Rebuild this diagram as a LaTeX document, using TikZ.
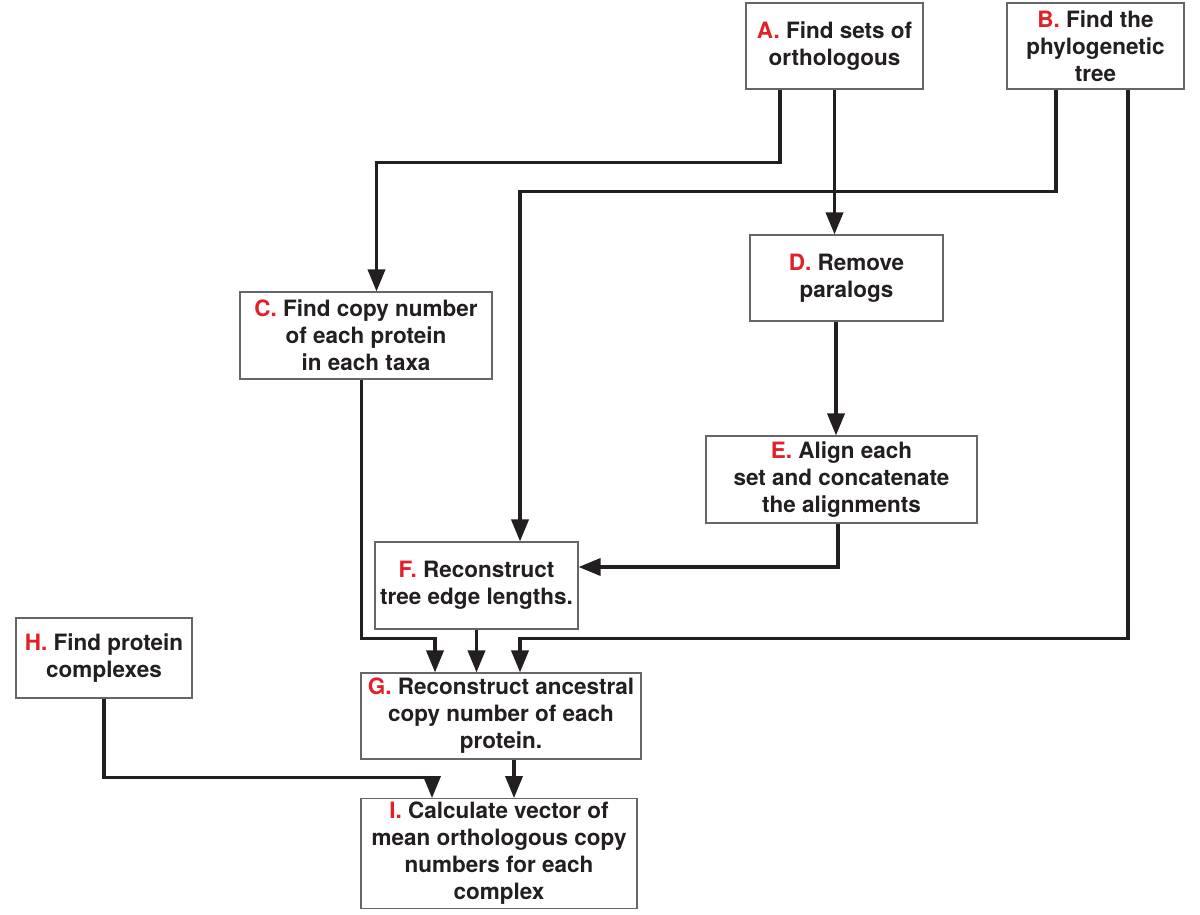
\documentclass[tikz,border=0pt]{standalone}
\usepackage{fontspec}
\setmainfont{TeX Gyre Heros}
\usetikzlibrary{arrows.meta}
\definecolor{labred}{RGB}{226,32,40}
\definecolor{inkgray}{RGB}{35,31,32}
\newcommand{\lbl}[1]{\textcolor{labred}{#1}}

\begin{document}
\begin{tikzpicture}[
	stage/.style={draw=gray!80!black, line width=0.6pt, fill=white, align=center,
		text=inkgray, font=\fontsize{12.8pt}{15.4pt}\selectfont\bfseries, inner sep=2pt},
	flow/.style={-{Triangle[length=0.44cm,width=0.34cm]}, line width=2pt, inkgray}
	]

				\useasboundingbox (0,0) rectangle (24,-18.28);

				\node [stage, minimum width=3.54cm, minimum height=1.72cm] (A) at (16.69, -0.92) {\lbl{A.} Find sets of\\orthologous};
				\node [stage, minimum width=3.54cm, minimum height=1.72cm] (B) at (21.91, -0.92) {\lbl{B.} Find the\\phylogenetic\\tree};
				\node [stage, minimum width=3.86cm, minimum height=1.72cm] (D) at (16.93, -5.56) {\lbl{D.} Remove\\paralogs};
				\node [stage, minimum width=5.04cm, minimum height=1.74cm] (C) at (7.32, -6.71) {\lbl{C.} Find copy number\\of each protein\\in each taxa};
				\node [stage, minimum width=5.42cm, minimum height=1.74cm] (E) at (16.83, -9.59) {\lbl{E.} Align each\\set and concatenate\\the alignments};
				\node [stage, minimum width=4.06cm, minimum height=1.74cm] (F) at (9.53, -11.71) {\lbl{F.} Reconstruct\\tree edge lengths.};
				\node [stage, minimum width=3.52cm, minimum height=1.60cm] (H) at (2.08, -13.16) {\lbl{H.} Find protein\\complexes};
				\node [stage, minimum width=5.60cm, minimum height=1.72cm] (G) at (10.02, -14.32) {\lbl{G.} Reconstruct ancestral\\copy number of each\\protein.};
				\node [stage, minimum width=5.52cm, minimum height=2.18cm] (I) at (9.98, -17.07) {\lbl{I.} Calculate vector of\\mean orthologous copy\\numbers for each\\complex};

				\draw [flow] ([xshift=-1.09cm]A.south) -- ++(0,-1.46) -| ([xshift=0.21cm]C.north);
				\draw [flow] (A.south) -- (A.south |- D.north);
				\draw [flow] ([xshift=-0.79cm]B.south) -- ++(0,-2.04) -| ([xshift=0.87cm]F.north);
				\draw [flow] ([xshift=0.65cm]B.south) -- ++(0,-10.98) -| ([xshift=0.38cm]G.north);
				\draw [flow] ([xshift=-0.21cm]D.south) -- ([xshift=-0.21cm]D.south |- E.north);
				\draw [flow] ([xshift=-0.07cm]E.south) |- ([yshift=0.37cm]F.east);
				\draw [flow] ([xshift=-0.09cm]C.south) -- ++(0,-5.18) -| ([xshift=-1.32cm]G.north);
				\draw [flow] (F.south) -- (F.south |- G.north);
				\draw [flow] (H.south) -- ++(0,-1.58) -| ([xshift=-1.34cm]I.north);
				\draw [flow] ([xshift=0.26cm]G.south) -- ([xshift=0.26cm]G.south |- I.north);
		\end{tikzpicture}
\end{document}
